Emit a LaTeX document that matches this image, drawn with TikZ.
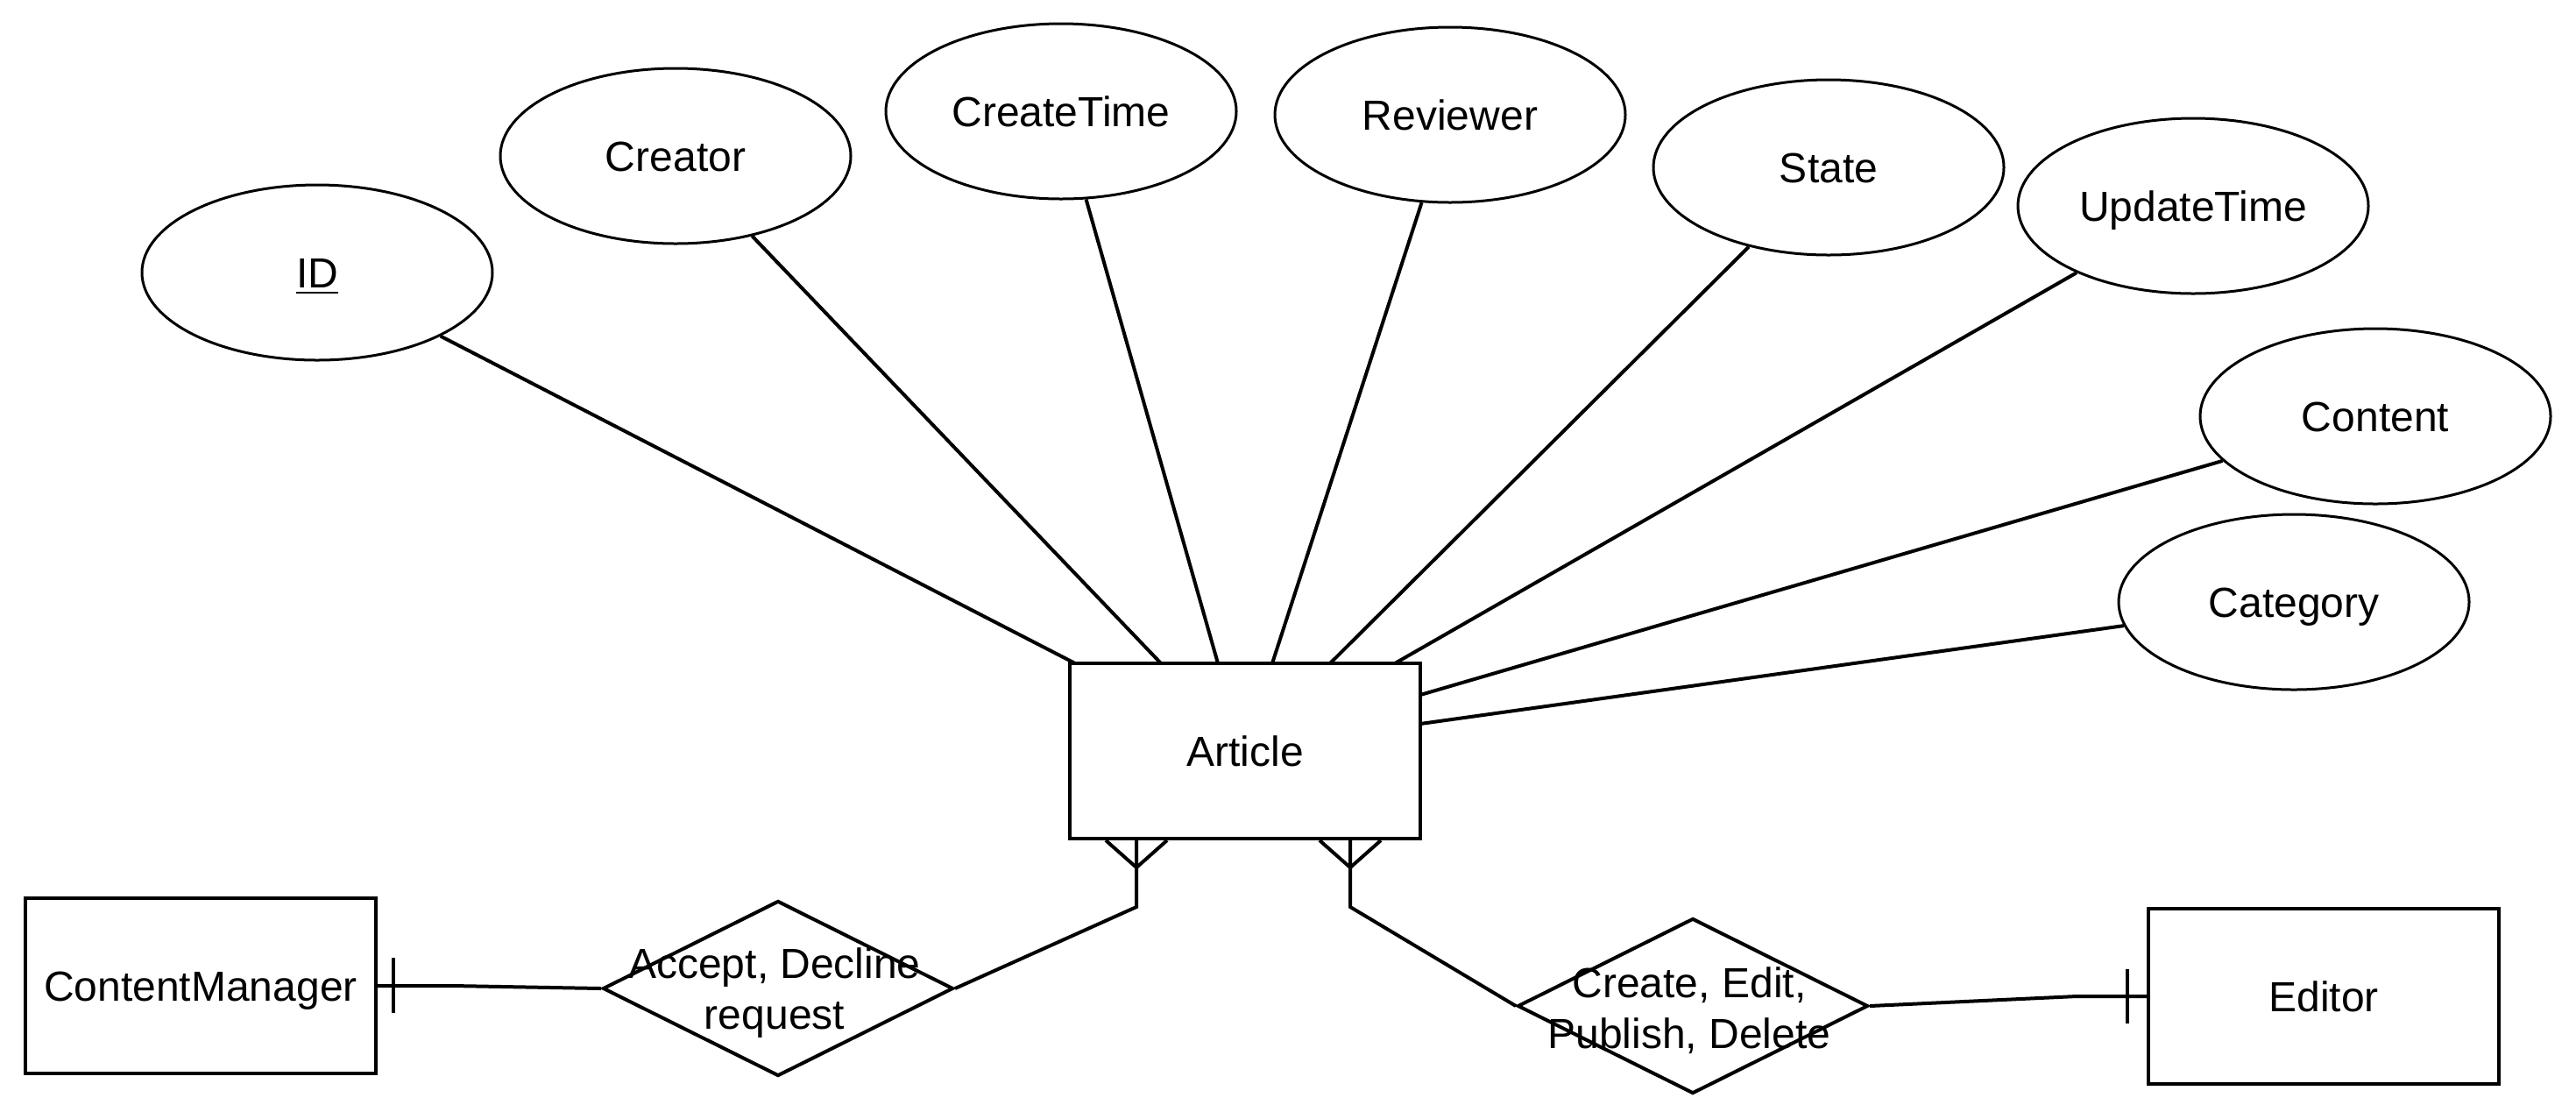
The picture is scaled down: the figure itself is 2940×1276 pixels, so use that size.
\documentclass[tikz,border=0pt]{standalone}
\usepackage{fontspec}
\setmainfont{Liberation Sans}
\usetikzlibrary{shapes.geometric,calc}
\begin{document}
\begin{tikzpicture}[x=0.25pt,y=-0.25pt,
  every node/.style={font=\fontsize{12pt}{14.4pt}\selectfont},
  ent/.style={draw,line width=1pt,rectangle,minimum width=100pt,minimum height=50pt,inner sep=0pt,text height=8.8pt,text depth=0pt},
  attr/.style={draw,line width=0.75pt,ellipse,minimum width=100pt,minimum height=50pt,inner sep=0pt,text height=8.8pt,text depth=0pt},
  rel/.style={draw,line width=1pt,diamond,minimum width=100pt,minimum height=50pt,inner sep=0pt,shape aspect=2},
  lbl/.style={align=center,inner sep=0pt},
  conn/.style={line width=1pt,line join=miter}]
\useasboundingbox (0,0) rectangle (2940,1276);
\fill[white] (0,0) rectangle (2940,1276);

% entities
\node[ent] (art) at (1421,857) {Article};
\node[ent] (cm) at (229,1125) {ContentManager};
\node[ent] (ed) at (2652,1137) {Editor};

% attributes
\node[attr] (id) at (362,311) {\underline{ID}};
\node[attr] (creator) at (771,178) {Creator};
\node[attr] (ctime) at (1211,127) {CreateTime};
\node[attr] (rev) at (1655,131) {Reviewer};
\node[attr] (state) at (2087,191) {State};
\node[attr] (utime) at (2503,235) {UpdateTime};
\node[attr] (content) at (2711,475) {Content};
\node[attr] (cat) at (2618,687) {Category};

% relationships
\node[rel] (d1) at (888,1128) {};
\node[rel] (d2) at (1932,1148) {};

% attachment points on Article
\coordinate (a1) at (1227,757);
\coordinate (a2) at (1325,757);
\coordinate (a3) at (1390,757);
\coordinate (a4) at (1452,757);
\coordinate (a5) at (1518,757);
\coordinate (a6) at (1592,757);
\coordinate (a7) at (1621,793);
\coordinate (a8) at (1621,826);

\draw[conn] (id) -- (a1);
\draw[conn] (creator) -- (a2);
\draw[conn] (ctime) -- (a3);
\draw[conn] (rev) -- (a4);
\draw[conn] (state) -- (a5);
\draw[conn] (utime) -- (a6);
\draw[conn] (content) -- (a7);
\draw[conn] (cat) -- (a8);

% Article -- Accept/Decline (many)
\coordinate (cf1) at (1297,1035);
\coordinate (fk1) at (1297,990);
\draw[conn] (d1.east) -- (cf1) -- (art.south -| cf1);
\draw[conn] ($(art.south -| cf1)+(-35,0)$) -- (fk1) -- ($(art.south -| cf1)+(35,0)$);

% Article -- Create/Edit (many)
\coordinate (cf2) at (1541,1035);
\coordinate (fk2) at (1541,990);
\draw[conn] (d2.west) -- (cf2) -- (art.south -| cf2);
\draw[conn] ($(art.south -| cf2)+(-35,0)$) -- (fk2) -- ($(art.south -| cf2)+(35,0)$);

% ContentManager -- Accept/Decline (one)
\coordinate (b1) at (517,1125);
\coordinate (t1) at (449,1125);
\draw[conn] (cm.east) -- (b1) -- (d1.west);
\draw[conn] ($(t1)+(0,-32)$) -- ($(t1)+(0,31)$);

% Editor -- Create/Edit (one)
\coordinate (b2) at (2370,1137);
\coordinate (t2) at (2428,1137);
\draw[conn] (d2.east) -- (b2) -- (ed.west);
\draw[conn] ($(t2)+(0,-31)$) -- ($(t2)+(0,31)$);

% relationship labels
\node[lbl] (d1t) at (884,1133) {Accept, Decline\\request};
\node[lbl] (d2t) at (1928,1153) {Create, Edit,\\Publish, Delete};
\end{tikzpicture}
\end{document}
